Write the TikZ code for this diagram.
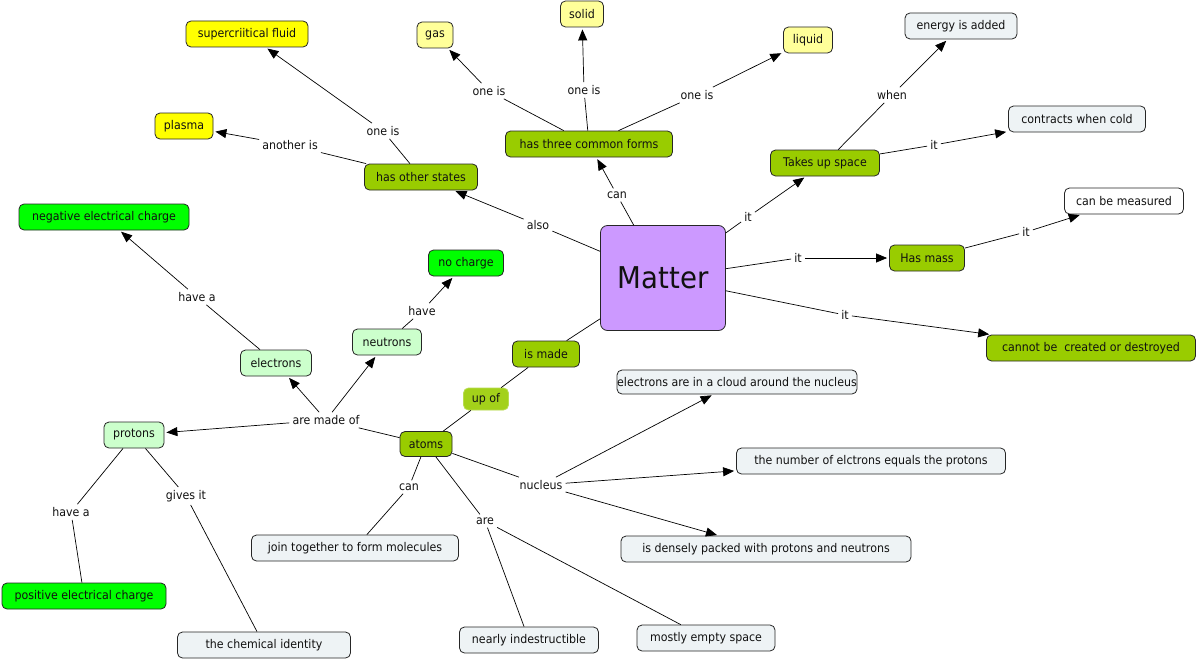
\documentclass[tikz,border=0pt]{standalone}
\usepackage{fontspec}
\setmainfont{DejaVu Sans}[FakeStretch=0.92]
\usetikzlibrary{arrows.meta}
\definecolor{cyel}{HTML}{FFFF00}
\definecolor{cpy}{HTML}{FFFF99}
\definecolor{col}{HTML}{99CC00}
\definecolor{cbg}{HTML}{00FF00}
\definecolor{clg}{HTML}{CCFFCC}
\definecolor{cpb}{HTML}{EEF3F5}
\definecolor{cmat}{HTML}{CC99FF}
\definecolor{cupof}{HTML}{A3D11A}
\definecolor{cupofb}{HTML}{B8DC50}
\definecolor{ctext}{HTML}{111111}
\begin{document}
\begin{tikzpicture}[x=1pt,y=-1pt,
  concept/.style={draw=black!85, rounded corners=5pt, line width=0.8pt, minimum height=26pt,
    inner sep=1pt, font=\fontsize{12}{14}\selectfont, text=ctext},
  lab/.style={inner sep=3pt, font=\fontsize{12}{14}\selectfont, text=ctext},
  ln/.style={line width=0.7pt, draw=black},
  arr/.style={line width=0.7pt, draw=black, -{Triangle[length=11pt,width=9pt]}, shorten >=2pt}]
\useasboundingbox[fill=white] (0,0) rectangle (1198,661);

% concepts
\node[concept, fill=cyel, minimum width=122pt] (scf) at (247,34) {supercriitical fluid};
\node[concept, fill=cyel, minimum width=58pt] (plasma) at (184,126) {plasma};
\node[concept, fill=cpy, minimum width=36pt] (gas) at (435,35) {gas};
\node[concept, fill=cpy, minimum width=43pt] (solid) at (582,14) {solid};
\node[concept, fill=cpy, minimum width=49pt] (liquid) at (808,40) {liquid};
\node[concept, fill=cpb, minimum width=112pt] (energy) at (961,26) {energy is added};
\node[concept, fill=cpb, minimum width=137pt] (contr) at (1077,119) {contracts when cold};
\node[concept, fill=col, minimum width=113pt] (hos) at (421,177) {has other states};
\node[concept, fill=col, minimum width=167pt] (three) at (589,144) {has three common forms};
\node[concept, fill=col, minimum width=109pt] (space) at (825,163) {Takes up space};
\node[concept, fill=white, minimum width=119pt] (meas) at (1124,201) {can be measured};
\node[concept, fill=cmat, minimum width=125pt, minimum height=105pt, rounded corners=7pt,
  font=\fontsize{30}{33}\selectfont] (matter) at (663,278) {Matter};
\node[concept, fill=col, minimum width=75pt] (mass) at (927,258) {Has mass};
\node[concept, fill=col, minimum width=209pt] (cannot) at (1091,348) {cannot be\ \ created or destroyed};
\node[concept, fill=cbg, minimum width=170pt] (neg) at (104,217) {negative electrical charge};
\node[concept, fill=cbg, minimum width=75pt] (noch) at (466,263) {no charge};
\node[concept, fill=clg, minimum width=69pt] (neut) at (387,342) {neutrons};
\node[concept, fill=clg, minimum width=71pt] (elec) at (276,363) {electrons};
\node[concept, fill=col, minimum width=67pt] (ismade) at (546,354) {is made};
\node[concept, fill=cupof, draw=cupofb, minimum width=45pt, minimum height=22pt] (upof) at (486,399) {up of};
\node[concept, fill=cpb, minimum width=240pt, minimum height=24pt, inner sep=0pt] (cloud) at (737,382) {electrons are in a cloud around the nucleus};
\node[concept, fill=clg, minimum width=60pt] (prot) at (134,435) {protons};
\node[concept, fill=col, minimum width=52pt, minimum height=25pt] (atoms) at (426,444) {atoms};
\node[concept, fill=cpb, minimum width=269pt] (number) at (871,461) {the number of elctrons equals the protons};
\node[concept, fill=cpb, minimum width=207pt] (join) at (355,548) {join together to form molecules};
\node[concept, fill=cpb, minimum width=290pt] (dense) at (766,549) {is densely packed with protons and neutrons};
\node[concept, fill=cbg, minimum width=164pt] (pos) at (84,596) {positive electrical charge};
\node[concept, fill=cpb, minimum width=173pt] (chem) at (264,645) {the chemical identity};
\node[concept, fill=cpb, minimum width=139pt] (indes) at (529,640) {nearly indestructible};
\node[concept, fill=cpb, minimum width=138pt] (empty) at (706,638) {mostly empty space};

% linking phrases
\node[lab] (l1) at (383,131) {one is};
\node[lab] (l2) at (290,145) {another is};
\node[lab] (l3) at (489,91) {one is};
\node[lab] (l4) at (584,90) {one is};
\node[lab] (l5) at (697,95) {one is};
\node[lab] (l6) at (892,95) {when};
\node[lab] (l7) at (934,145) {it};
\node[lab] (l8) at (617,195) {can};
\node[lab] (l9) at (538,225) {also};
\node[lab] (l10) at (748,217) {it};
\node[lab] (l11) at (798,258) {it};
\node[lab] (l12) at (1026,232) {it};
\node[lab] (l13) at (845,315) {it};
\node[lab] (l14) at (197,297) {have a};
\node[lab] (l15) at (422,311) {have};
\node[lab] (l16) at (326,420) {are made of};
\node[lab] (l17) at (71,512) {have a};
\node[lab] (l18) at (186,496) {gives it};
\node[lab] (l19) at (409,487) {can};
\node[lab] (l20) at (485,521) {are};
\node[lab] (l21) at (541,485) {nucleus};

% connectors
\draw[ln] (hos) -- (l1); \draw[arr] (l1) -- (scf);
\draw[ln] (hos) -- (l2); \draw[arr] (l2) -- (plasma);
\draw[ln] (three) -- (l3); \draw[arr] (l3) -- (gas);
\draw[ln] (three) -- (l4); \draw[arr] (l4) -- (solid);
\draw[ln] (three) -- (l5); \draw[arr] (l5) -- (liquid);
\draw[ln] (space) -- (l6); \draw[arr] (l6) -- (energy);
\draw[ln] (space) -- (l7); \draw[arr] (l7) -- (contr);
\draw[ln] (matter) -- (l8); \draw[arr] (l8) -- (three);
\draw[ln] (matter) -- (l9); \draw[arr] (l9) -- (hos);
\draw[ln] (matter) -- (l10); \draw[arr] (l10) -- (space);
\draw[ln] (matter) -- (l11); \draw[arr] (l11) -- (mass);
\draw[ln] (mass) -- (l12); \draw[arr] (l12) -- (meas);
\draw[ln] (matter) -- (l13); \draw[arr] (l13) -- (cannot);
\draw[ln] (matter) -- (ismade);
\draw[ln] (ismade) -- (upof);
\draw[ln] (upof) -- (atoms);
\draw[ln] (atoms) -- (l16);
\draw[arr] (l16) -- (prot);
\draw[arr] (l16) -- (elec);
\draw[arr] (l16) -- (neut);
\draw[ln] (elec) -- (l14); \draw[arr] (l14) -- (neg);
\draw[ln] (neut) -- (l15); \draw[arr] (l15) -- (noch);
\draw[ln] (prot) -- (l17); \draw[ln] (l17) -- (pos);
\draw[ln] (prot) -- (l18); \draw[ln] (l18) -- (chem);
\draw[ln] (atoms) -- (l19); \draw[ln] (l19) -- (join);
\draw[ln] (atoms) -- (l20); \draw[ln] (l20) -- (indes); \draw[ln] (l20) -- (empty);
\draw[ln] (atoms) -- (l21);
\draw[arr] (l21) -- (cloud);
\draw[arr] (l21) -- (number);
\draw[arr] (l21) -- (dense);
\end{tikzpicture}
\end{document}
